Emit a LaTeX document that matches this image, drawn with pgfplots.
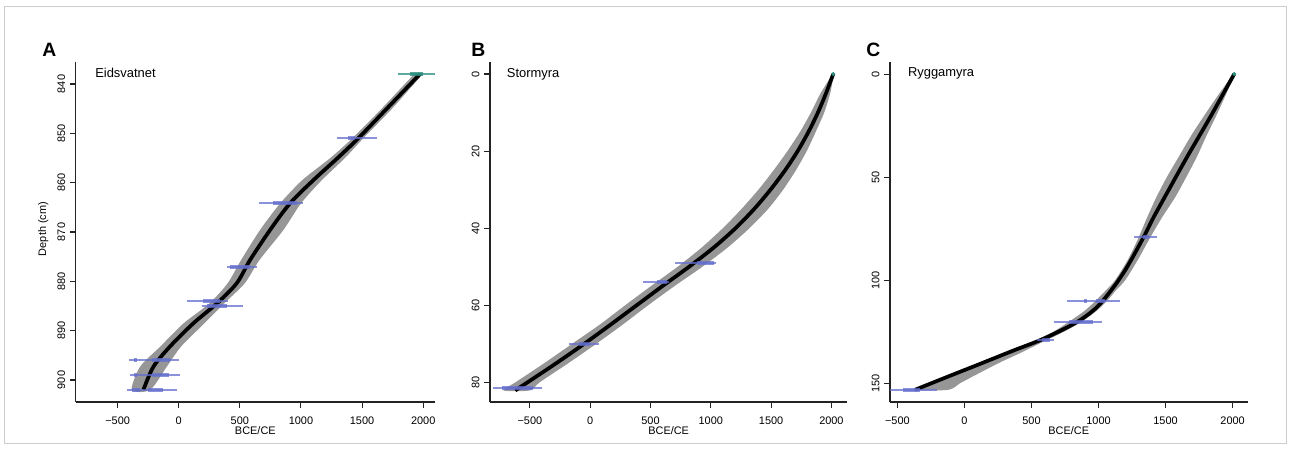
\documentclass[border=0pt]{standalone}
\usepackage{pgfplots}
\pgfplotsset{compat=1.18}
\usepackage{fontspec}
\setmainfont{Liberation Sans}
\definecolor{envgrey}{RGB}{150,150,150}
\definecolor{datblue}{RGB}{100,110,205}
\definecolor{datgreen}{RGB}{40,140,125}
\definecolor{axgrey}{RGB}{35,35,35}
\definecolor{framegrey}{RGB}{205,205,205}

\pgfplotsset{
  rstyle/.style={
    scale only axis,
    anchor=south west,
    height=255.2pt,
    axis x line*=bottom, axis y line*=left,
    axis line style={line width=0.8pt, color=axgrey, -},
    tick align=outside,
    major tick length=4.25pt,
    tick style={line width=0.8pt, color=axgrey},
    y dir=reverse,
    xtick={-500,0,500,1000,1500,2000},
    xticklabels={−500,0,500,1000,1500,2000},
    ticklabel style={font=\fontsize{8.2}{9.6}\selectfont, inner sep=0pt},
    xticklabel style={anchor=north, yshift=-6.65pt},
    yticklabel style={rotate=90, anchor=south},
    yticklabel shift=3.4pt,
    unbounded coords=jump,
  },
  env/.style={fill=envgrey, draw=none, smooth, tension=0.45},
  curve/.style={black, line width=2.8pt, smooth, tension=0.5},
  thinbar/.style={datblue, opacity=0.75, line width=1.5pt},
  thickbar/.style={datblue, opacity=0.75, line width=3pt},
}

\begin{document}
\begin{tikzpicture}
\path[use as bounding box] (0,0) rectangle (967.5pt,337.5pt);
\draw[framegrey, line width=0.75pt] (3pt,4.5pt) rectangle (964.5pt,332.25pt);

% ---------------- Panel A ----------------
\begin{axis}[rstyle, at={(56.775pt,36pt)}, width=269.5pt,
  xmin=-843, xmax=2097, ymin=835.48, ymax=904.46,
  ytick={840,850,860,870,880,890,900},
  yticklabels={840,850,860,870,880,890,900}]
\addplot[env] coordinates {
 (1925,838) (1660,845) (1420,851) (1240,855) (1010,859.5) (830,864.2) (665,869.6)
 (510,875.7) (400,880.4) (250,884.5) (40,888.5) (-150,893.2) (-316,897.3) (-384,902)
 (-234,902) (-98,897.3) (20,893.2) (210,888.5) (370,884.5) (540,880.4) (660,875.7)
 (856,869.6) (1000,864.2) (1170,859.5) (1360,855) (1510,851) (1745,845) (1995,838)};
\addplot[curve] coordinates {
 (1973,838) (1702,845) (1469,851) (1300,855) (1101,859.5) (910,864.2) (747,869.6)
 (583,875.7) (474,880.4) (311,884.5) (120,888.5) (-71,893.2) (-207,897.3) (-289,902)};
\addplot[thinbar] coordinates {
 (1296,851) (1623,851) (nan,nan) (659,864.1) (1013,864.1) (nan,nan)
 (398,877) (643,877) (nan,nan) (65,884) (406,884) (nan,nan) (188,885) (528,885) (nan,nan)
 (-411,896) (5,896) (nan,nan) (-397,899) (11,899) (nan,nan) (-425,902) (-16,902)};
\addplot[thickbar] coordinates {
 (1386,851) (1440,851) (nan,nan) (773,864.1) (964,864.1) (nan,nan)
 (419,877) (583,877) (nan,nan) (201,884) (338,884) (nan,nan) (229,885) (392,885) (nan,nan)
 (-220,896) (-71,896) (nan,nan) (-364,896) (-344,896) (nan,nan)
 (-220,899) (-76,899) (nan,nan) (-364,899) (-344,899) (nan,nan)
 (-384,902) (-316,902) (nan,nan) (-248,902) (-125,902)};
\addplot[datgreen, opacity=0.75, line width=1.5pt] coordinates {(1794,838) (2094,838)};
\addplot[datgreen, opacity=0.8, line width=3pt] coordinates {(1890,838) (1999,838)};
\end{axis}

% ---------------- Panel B ----------------
\begin{axis}[rstyle, at={(367.5pt,36pt)}, width=268pt,
  xmin=-831, xmax=2132, ymin=-3.19, ymax=85.1,
  ytick={0,20,40,60,80}, yticklabels={0,20,40,60,80}]
\addplot[env] coordinates {
 (2010,0) (1910,5) (1830,10) (1740,15) (1635,20) (1520,25) (1395,30) (1255,35) (1100,40)
 (925,45) (725,50) (505,55) (290,60) (80,65) (-150,70) (-380,75) (-620,80) (-720,82.1)
 (-500,82.1) (-420,80) (-180,75) (50,70) (270,65) (480,60) (700,55) (930,50) (1140,45)
 (1320,40) (1475,35) (1600,30) (1705,25) (1795,20) (1870,15) (1940,10) (1990,5) (2020,0)};
\addplot[curve] coordinates {
 (2015,0) (1955,5) (1888,10) (1810,15) (1720,20) (1615,25) (1495,30) (1360,35) (1205,40)
 (1025,45) (820,50) (600,55) (385,60) (170,65) (-50,70) (-280,75) (-520,80) (-622,82.1)};
\addplot[thinbar] coordinates {
 (706,49) (1039,49) (nan,nan) (438,54) (651,54) (nan,nan) (-180,70) (69,70) (nan,nan)
 (-803,81.5) (-402,81.5)};
\addplot[thickbar] coordinates {
 (886,49) (1025,49) (nan,nan) (554,54) (637,54) (nan,nan) (-97,70) (0,70) (nan,nan)
 (-734,81.5) (-471,81.5)};
\addplot[only marks, mark=*, mark size=1.3pt, datgreen] coordinates {(2015,0)};
\end{axis}

% ---------------- Panel C ----------------
\begin{axis}[rstyle, at={(667.5pt,36pt)}, width=268.3pt,
  xmin=-555, xmax=2113, ymin=-5.97, ymax=159.2,
  ytick={0,50,100,150}, yticklabels={0,50,100,150}]
\addplot[env] coordinates {
 (2006,0) (1895,10) (1790,20) (1690,30) (1600,40) (1510,50) (1430,60) (1360,70) (1295,80)
 (1220,90) (1125,100) (1055,105) (980,110) (895,115) (785,120) (665,125) (505,130)
 (305,135) (110,140) (-65,145) (-255,150) (-375,153.3)
 (-120,153.3) (-30,150) (115,145) (265,140) (430,135) (585,130) (745,125) (880,120)
 (985,115) (1065,110) (1130,105) (1200,100) (1295,90) (1380,80) (1470,70) (1570,60)
 (1655,50) (1735,40) (1805,30) (1880,20) (1950,10) (2016,0)};
\addplot[curve] coordinates {
 (2012,0) (1835,20.7) (1661,40.2) (1536,54.8) (1412,69.4) (1337,79.1) (1213,93.7)
 (1113,103.4) (989,113.1) (839,120.4) (590,128.5) (366,134.2) (117,140.7) (-132,147.1)
 (-369,153.3)};
\addplot[thinbar] coordinates {
 (1262,79.1) (1437,79.1) (nan,nan) (765,110.2) (1163,110.2) (nan,nan)
 (670,120.2) (1026,120.2) (nan,nan) (541,129) (665,129) (nan,nan) (-555,153.3) (-206,153.3)};
\addplot[thickbar] coordinates {
 (1330,79.1) (1380,79.1) (nan,nan) (980,110.2) (1050,110.2) (nan,nan) (895,110.2) (915,110.2) (nan,nan)
 (780,120.2) (960,120.2) (nan,nan) (580,129) (640,129) (nan,nan) (-458,153.3) (-331,153.3)};
\addplot[only marks, mark=*, mark size=1.3pt, datgreen] coordinates {(2012,0)};
\end{axis}

% ---------------- Texts ----------------
\node[font=\fontsize{14.5}{16}\selectfont\bfseries] at (37.1pt,300pt) {A};
\node[font=\fontsize{14.5}{16}\selectfont\bfseries] at (358.7pt,300pt) {B};
\node[font=\fontsize{14.5}{16}\selectfont\bfseries] at (655pt,300pt) {C};
\node[font=\fontsize{9.7}{11}\selectfont, anchor=base west, inner sep=0pt] at (71.25pt,279.5pt) {Eidsvatnet};
\node[font=\fontsize{9.7}{11}\selectfont, anchor=base west, inner sep=0pt] at (380pt,279.5pt) {Stormyra};
\node[font=\fontsize{9.7}{11}\selectfont, anchor=base west, inner sep=0pt] at (680.8pt,280pt) {Ryggamyra};
\node[font=\fontsize{8.2}{9.6}\selectfont, anchor=base, inner sep=0pt] at (191.5pt,11.8pt) {BCE/CE};
\node[font=\fontsize{8.2}{9.6}\selectfont, anchor=base, inner sep=0pt] at (501.5pt,11.8pt) {BCE/CE};
\node[font=\fontsize{8.2}{9.6}\selectfont, anchor=base, inner sep=0pt] at (801.6pt,11.8pt) {BCE/CE};
\node[font=\fontsize{8.2}{9.6}\selectfont, rotate=90, inner sep=0pt] at (32.5pt,165.75pt) {Depth (cm)};
\end{tikzpicture}
\end{document}
